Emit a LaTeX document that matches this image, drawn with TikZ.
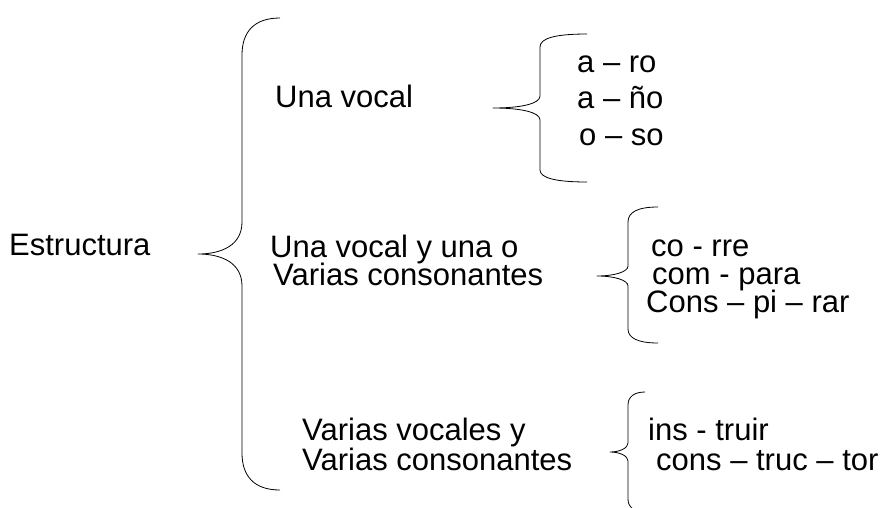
\documentclass[tikz,border=0pt]{standalone}
\usepackage{fontspec}
\setmainfont{Liberation Sans}
\usepackage{tikz}
\usetikzlibrary{positioning}

\begin{document}
\begin{tikzpicture}[
    x=1pt, y=-1pt,
    txt/.style={anchor=base west, inner sep=0pt, font=\fontsize{31}{37}\selectfont},
    llave/.style={draw, line width=0.8pt, line join=round},
  ]
    \useasboundingbox (0,0) rectangle (887,507);
    % main brace
    \node[txt] (estructura) at (9,255) {Estructura};
    \draw[llave] (280,18) .. controls (254,18) and (242,32) .. (242,55)
      -- (242,222) .. controls (242,245) and (222,254) .. (198,254)
      .. controls (222,254) and (242,263) .. (242,286)
      -- (242,453) .. controls (242,476) and (254,490) .. (280,490);
    % first branch
    \node[txt] (vocal) at (275,107) {Una vocal};
    \draw[llave] (587,34) .. controls (556,34) and (540,38) .. (540,47)
      -- (540,96) .. controls (540,104) and (520,108) .. (493,108)
      .. controls (520,108) and (540,112) .. (540,120)
      -- (540,170) .. controls (540,178) and (556,182) .. (587,182);
    \node[txt] (aro) at (577,72) {a – ro};
    \node[txt] (ano) at (577,108) {a – ño};
    \node[txt] (oso) at (579,145) {o – so};
    % second branch
    \node[txt] (vocalcons) at (270,257) {Una vocal y una o};
    \node[txt] (consonantes) at (273,285) {Varias consonantes};
    \draw[llave] (658,207) .. controls (638,207) and (628,212) .. (628,222)
      -- (628,266) .. controls (628,272) and (614,276) .. (597,276)
      .. controls (614,276) and (628,280) .. (628,286)
      -- (628,329) .. controls (628,338) and (638,343) .. (658,343);
    \node[txt] (corre) at (651,256) {co - rre};
    \node[txt] (compara) at (652,284) {com - para};
    \node[txt] (conspirar) at (646,312) {Cons – pi – rar};
    % third branch
    \node[txt] (vocales) at (302,440) {Varias vocales y};
    \node[txt] (consonantesb) at (302,470) {Varias consonantes};
    \draw[llave] (645,392) .. controls (634,392) and (628,397) .. (628,405)
      -- (628,443) .. controls (628,448) and (620,452) .. (610,452)
      .. controls (620,452) and (628,456) .. (628,461)
      -- (628,499) .. controls (628,507) and (634,512) .. (645,512);
    \node[txt] (instruir) at (648,440) {ins - truir};
    \node[txt] (constructor) at (656,470) {cons – truc – tor};
\end{tikzpicture}
\end{document}
